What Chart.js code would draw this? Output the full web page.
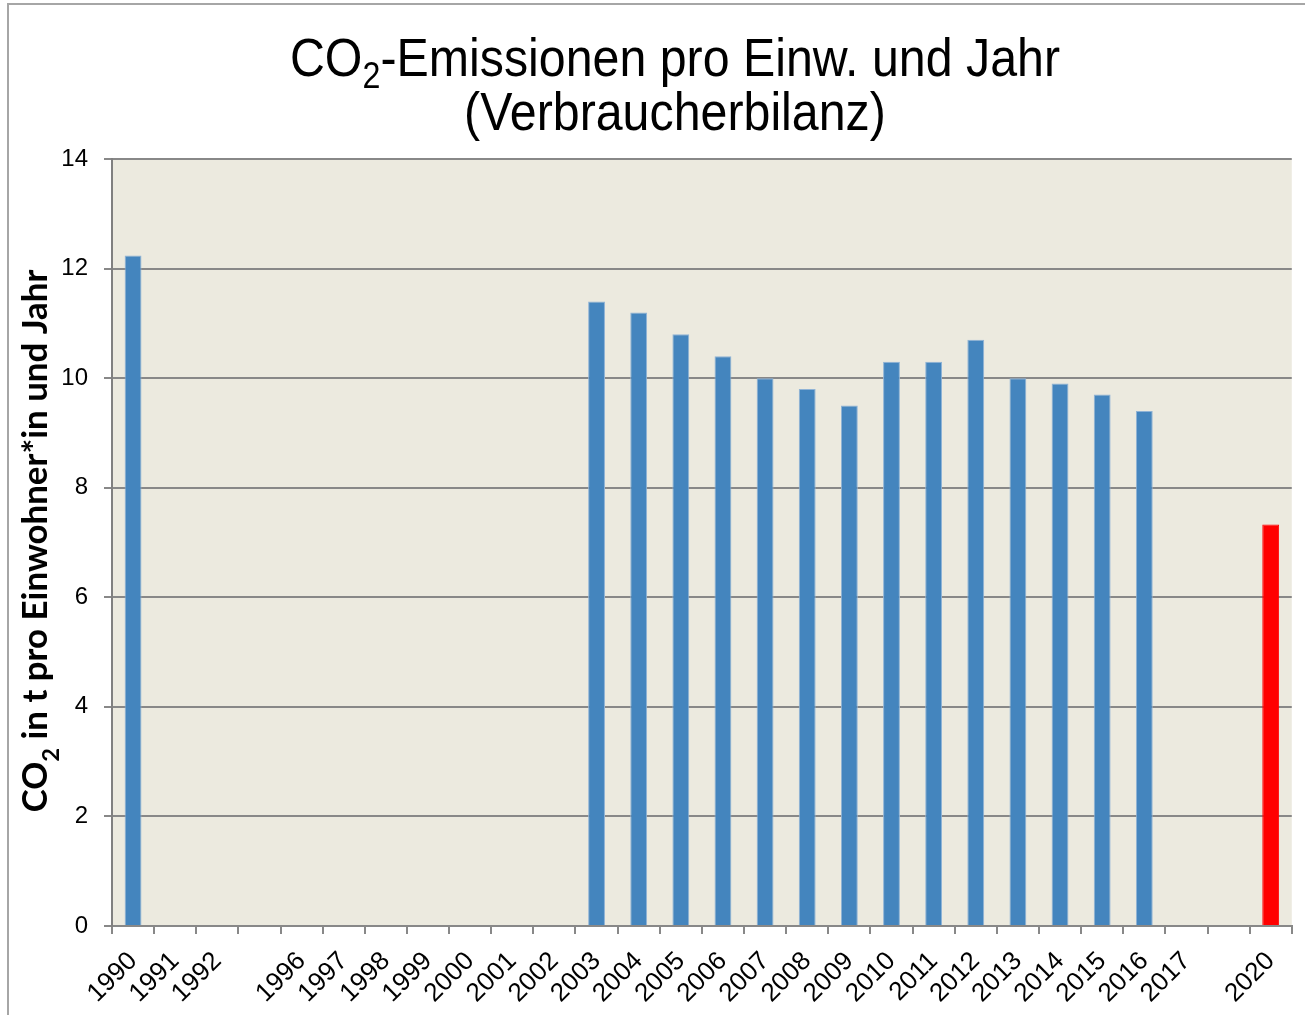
<!DOCTYPE html>
<html lang="de">
<head>
<meta charset="utf-8">
<title>CO2-Emissionen pro Einw. und Jahr</title>
<script src="https://cdn.jsdelivr.net/npm/chart.js@4.4.0/dist/chart.umd.min.js"></script>
<style>
  html, body { margin: 0; padding: 0; background: #ffffff; overflow: hidden; }
  #wrap { width: 1305px; height: 1015px; }
</style>
</head>
<body>
<div id="wrap"><canvas id="myChart" width="1305" height="1015"></canvas></div>
<script>
//Years on the x axis (empty strings are the gaps of the original chart)
const years = ['1990','1991','1992','','1996','1997','1998','1999','2000','2001','2002',
  '2003','2004','2005','2006','2007','2008','2009','2010','2011','2012','2013','2014',
  '2015','2016','2017','','2020'];

//CO2 in t per inhabitant and year (null = no value)
const emissions = [12.24,null,null,null,null,null,null,null,null,null,null,
  11.4,11.2,10.8,10.4,10.0,9.8,9.5,10.3,10.3,10.7,10.0,9.9,
  9.7,9.4,null,null,7.33];

//Tick labels of the y axis
const yTicks = [0,2,4,6,8,10,12,14];

//The target year is red, all others blue
const targetYear = '2020';
const barColors = years.map(y => y === targetYear ? '#ff0000' : '#4485be');
const barBorders = years.map(y => y === targetYear ? '#ff0000' : '#8fb3d6');

//Draw text pieces (for the subscript 2) centered on x
function drawParts(ctx, parts, x, y){
  let total = 0;
  parts.forEach(p => { ctx.font = p.font; p.w = ctx.measureText(p.text).width; total += p.w; });
  let cx = x - total / 2;
  ctx.textAlign = 'left';
  ctx.textBaseline = 'alphabetic';
  parts.forEach(p => {
    ctx.font = p.font;
    ctx.fillText(p.text, cx, y + (p.dy || 0));
    cx += p.w;
  });
  return total;
}

//Frame, plot background, title and y axis title
const decorPlugin = {
  id: 'decor',
  beforeDraw(chart){
    const ctx = chart.ctx;
    const area = chart.chartArea;
    ctx.save();
    ctx.fillStyle = '#ffffff';
    ctx.fillRect(0, 0, chart.width, chart.height);
    ctx.strokeStyle = '#a6a6a6';
    ctx.lineWidth = 2;
    ctx.strokeRect(8, 4, chart.width + 20, chart.height + 20);
    ctx.fillStyle = '#eceadf';
    ctx.fillRect(area.left, area.top, area.right - area.left, area.bottom - area.top);
    ctx.restore();
  },
  afterDraw(chart){
    const ctx = chart.ctx;
    ctx.save();
    ctx.fillStyle = '#000000';

    //Title (font is a bit narrower than Arial)
    ctx.save();
    ctx.translate(675, 76);
    ctx.scale(0.895, 1);
    drawParts(ctx, [
      {text: 'CO', font: '54px "Liberation Sans", Arial, sans-serif'},
      {text: '2', font: '36px "Liberation Sans", Arial, sans-serif', dy: 12},
      {text: '-Emissionen pro Einw. und Jahr', font: '54px "Liberation Sans", Arial, sans-serif'}
    ], 0, 0);
    drawParts(ctx, [
      {text: '(Verbraucherbilanz)', font: '54px "Liberation Sans", Arial, sans-serif'}
    ], 0, 54);
    ctx.restore();

    //Y axis title, scaled to the length in the original
    ctx.save();
    ctx.translate(47, 541);
    ctx.rotate(-Math.PI / 2);
    const base = 28;
    const fam = 'Lato, "Liberation Sans", sans-serif';
    const mk = s => [
      {text: 'CO', font: 'bold ' + s + 'px ' + fam},
      {text: '2', font: 'bold ' + (s * 0.68) + 'px ' + fam, dy: s * 0.34},
      {text: ' in t pro Einwohner*in und Jahr', font: 'bold ' + s + 'px ' + fam}
    ];
    let w = 0;
    mk(base).forEach(p => { ctx.font = p.font; w += ctx.measureText(p.text).width; });
    const size = base * 543 / w;
    drawParts(ctx, mk(size), 0, 0);
    ctx.restore();

    ctx.restore();
  }
};

//Create and define chart
const ctx = document.getElementById('myChart');
const myChart = new Chart(ctx, {
  type: 'bar',
  data: {
    labels: years,
    datasets: [{
      label: 'CO2 in t',
      data: emissions,
      backgroundColor: barColors,
      borderColor: barBorders,
      borderWidth: 1,
      borderSkipped: 'start',
      categoryPercentage: 1.0,
      barPercentage: 0.4
    }]
  },
  options: {
    responsive: false,
    animation: false,
    layout: { padding: { top: 159, right: 13, left: 0, bottom: 0 } },
    plugins: {
      legend: { display: false },
      title: { display: false },
      tooltip: { enabled: false }
    },
    scales: {
      x: {
        offset: true,
        grid: {
          offset: true,
          drawOnChartArea: false,
          drawTicks: true,
          tickLength: 8,
          color: '#888888',
          lineWidth: 2
        },
        border: { display: true, color: '#888888', width: 2 },
        ticks: {
          autoSkip: false,
          maxRotation: 45,
          minRotation: 45,
          padding: 12,
          color: '#000000',
          font: { family: '"Liberation Sans", Arial, sans-serif', size: 26 }
        },
        afterFit: axis => { axis.height = 89; }
      },
      y: {
        min: 0,
        max: 14,
        afterBuildTicks: axis => { axis.ticks = yTicks.map(v => ({ value: v })); },
        grid: {
          color: '#888888',
          lineWidth: 2,
          tickLength: 8
        },
        border: { display: true, color: '#808080', width: 2 },
        ticks: {
          padding: 16,
          color: '#000000',
          font: { family: '"Liberation Sans", Arial, sans-serif', size: 24 }
        },
        afterFit: axis => { axis.width = 112; }
      }
    }
  },
  plugins: [decorPlugin]
});
</script>
</body>
</html>
